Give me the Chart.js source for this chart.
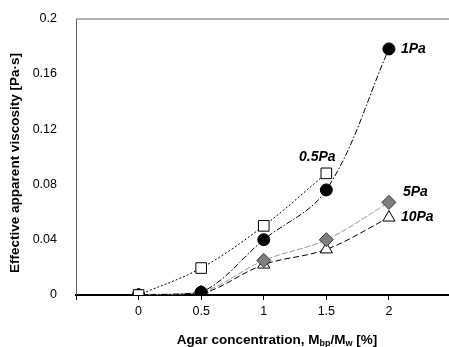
<!DOCTYPE html>
<html>
<head>
<meta charset="utf-8">
<script src="https://cdn.jsdelivr.net/npm/chart.js@4.4.0/dist/chart.umd.min.js"></script>
<style>
  html, body { margin: 0; padding: 0; background: #fff; overflow: hidden; }
  #wrap { width: 460px; height: 347px; }
</style>
</head>
<body>
<div id="wrap"><canvas id="myChart" width="460" height="347"></canvas></div>
<script>
// agar concentration [%]
var concentracao = [0, 0.5, 1, 1.5, 2];
var concentracao05 = [0, 0.5, 1, 1.5];

// effective apparent viscosity [Pa·s] per shear stress
var visc05Pa = [0, 0.0195, 0.050, 0.088];
var visc1Pa = [0, 0.002, 0.040, 0.076, 0.178];
var visc5Pa = [0, 0.002, 0.025, 0.040, 0.067];
var visc10Pa = [0, 0.001, 0.022, 0.033, 0.056];

var nomes = ['0.5Pa', '1Pa', '5Pa', '10Pa'];
var ticksX = [0, 0.5, 1, 1.5, 2];
var ticksY = [0, 0.04, 0.08, 0.12, 0.16, 0.2];

function pontos(xs, ys){
    var out = [];
    for (var i = 0; i < ys.length; i++) {
        out.push({x: xs[i], y: ys[i]});
    }
    return out;
}

var fonte = '"Liberation Sans", Arial, sans-serif';

// label next to the last point of each series
var rotulos = [
    {ds: 0, idx: 3, dx: -9, dy: -16, align: 'center'},
    {ds: 1, idx: 4, dx: 12, dy: 0, align: 'left'},
    {ds: 2, idx: 4, dx: 14, dy: -10, align: 'left'},
    {ds: 3, idx: 4, dx: 12, dy: 0, align: 'left'}
];

var extras = {
    id: 'extras',
    beforeDatasetsDraw: function(chart){
        var ctx = chart.ctx;
        var a = chart.chartArea;
        ctx.save();
        ctx.strokeStyle = '#666';
        ctx.lineWidth = 1;
        ctx.beginPath();
        ctx.moveTo(a.left + 0.5, a.bottom);
        ctx.lineTo(a.left + 0.5, a.top + 0.5);
        ctx.lineTo(a.right, a.top + 0.5);
        ctx.lineTo(a.right - 0.5, a.bottom);
        ctx.stroke();
        ctx.restore();
    },
    afterDraw: function(chart){
        var ctx = chart.ctx;
        ctx.save();
        ctx.fillStyle = '#000';
        ctx.textBaseline = 'middle';
        ctx.font = 'italic bold 14px ' + fonte;
        rotulos.forEach(function(r){
            var el = chart.getDatasetMeta(r.ds).data[r.idx];
            ctx.textAlign = r.align;
            ctx.fillText(nomes[r.ds], el.x + r.dx, el.y + r.dy);
        });

        // y title
        ctx.save();
        ctx.translate(15, 163);
        ctx.rotate(-Math.PI / 2);
        ctx.textAlign = 'center';
        ctx.font = 'bold 13.5px ' + fonte;
        ctx.fillText('Effective apparent viscosity [Pa\u00b7s]', 0, 0);
        ctx.restore();

        // x title with subscripts
        var partes = [
            ['Agar concentration, M', false],
            ['bp', true],
            ['/M', false],
            ['w', true],
            [' [%]', false]
        ];
        var grande = 'bold 13.5px ' + fonte;
        var pequeno = 'bold 9px ' + fonte;
        var total = 0;
        partes.forEach(function(p){
            ctx.font = p[1] ? pequeno : grande;
            total += ctx.measureText(p[0]).width;
        });
        var x = 277 - total / 2;
        var base = 344;
        ctx.textAlign = 'left';
        ctx.textBaseline = 'alphabetic';
        partes.forEach(function(p){
            ctx.font = p[1] ? pequeno : grande;
            ctx.fillText(p[0], x, p[1] ? base + 2 : base);
            x += ctx.measureText(p[0]).width;
        });
        ctx.restore();
    }
};

const ctx = document.getElementById('myChart').getContext('2d');
const myChart = new Chart(ctx, {
    type: 'line',
    data: {
        datasets: [{
            label: nomes[0],
            data: pontos(concentracao05, visc05Pa),
            borderColor: '#000',
            borderWidth: 1,
            borderDash: [2, 2],
            pointStyle: 'rect',
            pointRadius: 7.5,
            pointBackgroundColor: '#fff',
            pointBorderColor: '#000',
            pointBorderWidth: 1,
            tension: 0.35,
            order: 1
        }, {
            label: nomes[1],
            data: pontos(concentracao, visc1Pa),
            borderColor: '#000',
            borderWidth: 1,
            borderDash: [6, 2, 1.5, 2],
            pointStyle: 'circle',
            pointRadius: 6,
            pointBackgroundColor: '#000',
            pointBorderColor: '#000',
            pointBorderWidth: 1,
            tension: 0.35,
            order: 2
        }, {
            label: nomes[2],
            data: pontos(concentracao, visc5Pa),
            borderColor: '#999',
            borderWidth: 1,
            borderDash: [6, 2],
            pointStyle: 'rectRot',
            pointRadius: 7,
            pointBackgroundColor: '#7f7f7f',
            pointBorderColor: '#333',
            pointBorderWidth: 1,
            tension: 0.35,
            order: 3
        }, {
            label: nomes[3],
            data: pontos(concentracao, visc10Pa),
            borderColor: '#000',
            borderWidth: 1,
            borderDash: [6, 3],
            pointStyle: 'triangle',
            pointRadius: 7,
            pointBackgroundColor: '#fff',
            pointBorderColor: '#000',
            pointBorderWidth: 1,
            tension: 0.35,
            order: 4
        }]
    },
    options: {
        responsive: false,
        animation: false,
        layout: { padding: { top: 17, right: 6, left: 0, bottom: 0 } },
        plugins: {
            legend: { display: false },
            tooltip: { enabled: false }
        },
        scales: {
            x: {
                type: 'linear',
                min: -0.5,
                max: 2.5,
                afterBuildTicks: function(s){
                    s.ticks = [-0.5].concat(ticksX, [2.5]).map(function(v){ return {value: v}; });
                },
                afterFit: function(s){ s.height = 52; },
                grid: { drawOnChartArea: false, drawTicks: true, tickLength: 5, color: '#000', lineWidth: 1 },
                border: { display: true, color: '#000', width: 2 },
                ticks: {
                    padding: 4,
                    color: '#000',
                    font: { family: fonte, size: 12.5 },
                    maxRotation: 0,
                    autoSkip: false,
                    callback: function(v){
                        return ticksX.indexOf(v) >= 0 ? String(v) : '';
                    }
                }
            },
            y: {
                min: 0,
                max: 0.2,
                afterBuildTicks: function(s){
                    s.ticks = ticksY.map(function(v){ return {value: v}; });
                },
                afterFit: function(s){ s.width = 76; },
                grid: { display: false },
                border: { display: false },
                ticks: {
                    padding: 11,
                    color: '#000',
                    font: { family: fonte, size: 12.5 },
                    callback: function(v){ return String(Math.round(v * 100) / 100); }
                }
            }
        }
    },
    plugins: [extras]
});
</script>
</body>
</html>
